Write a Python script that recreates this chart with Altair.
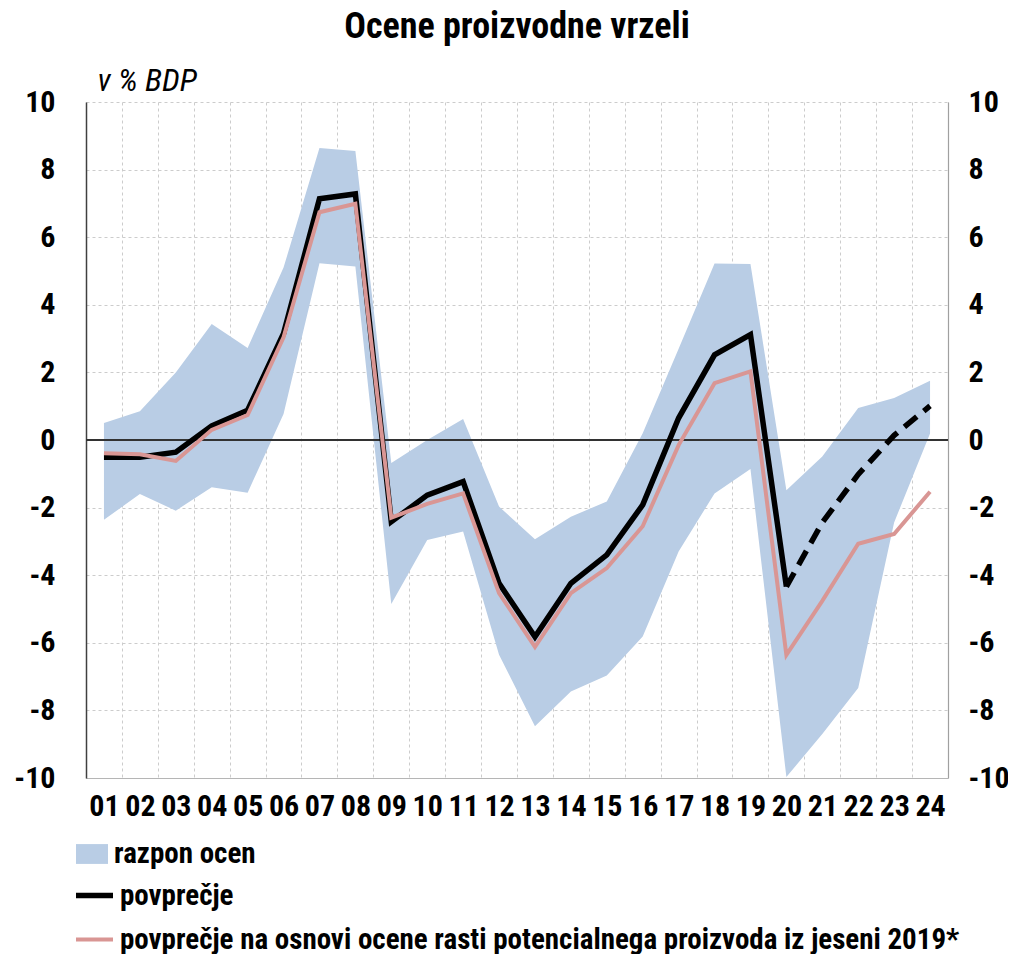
import altair as alt
import pandas as pd

# ---- data ----
leta = ["01", "02", "03", "04", "05", "06", "07", "08", "09", "10", "11", "12",
        "13", "14", "15", "16", "17", "18", "19", "20", "21", "22", "23", "24"]
razpon_zgoraj = [0.5, 0.85, 2.0, 3.43, 2.72, 5.1, 8.64, 8.55, -0.68, 0.0, 0.62, -1.97,
                 -2.94, -2.27, -1.82, 0.2, 2.7, 5.22, 5.21, -1.49, -0.49, 0.95, 1.24, 1.75]
razpon_spodaj = [-2.36, -1.6, -2.09, -1.4, -1.56, 0.77, 5.23, 5.13, -4.85, -2.96, -2.71, -6.35,
                 -8.47, -7.44, -6.97, -5.81, -3.3, -1.58, -0.86, -9.97, -8.7, -7.34, -2.44, 0.19]
povprecje = [-0.51, -0.51, -0.36, 0.42, 0.88, 3.15, 7.14, 7.28, -2.42, -1.63, -1.23, -4.24,
             -5.82, -4.24, -3.4, -1.92, 0.65, 2.52, 3.12, -4.34]
povprecje_napoved_leta = ["20", "21", "22", "23", "24"]
povprecje_napoved = [-4.34, -2.44, -1.02, 0.14, 1.01]
povprecje_2019 = [-0.39, -0.42, -0.62, 0.3, 0.74, 3.04, 6.74, 6.99, -2.3, -1.89, -1.58, -4.53,
                  -6.12, -4.53, -3.79, -2.55, -0.15, 1.68, 2.03, -6.36, -4.76, -3.07, -2.78, -1.53]

serije = ["povprečje", "povprečje na osnovi ocene rasti potencialnega proizvoda iz jeseni 2019*"]
pas_ime = "razpon ocen"
y_ticks = [-10, -8, -6, -4, -2, 0, 2, 4, 6, 8, 10]

FONT = "Roboto Condensed, Noto Sans Condensed, Roboto, sans-serif"
BAND_COLOR = "#b9cde5"
PINK = "#d99694"
FS = 30      # tick labels
LFS = 29     # legend labels

df_band = pd.DataFrame({"leto": leta, "zg": razpon_zgoraj, "sp": razpon_spodaj, "pas": pas_ime})
df_avg = pd.DataFrame({"leto": leta[:len(povprecje)], "v": povprecje, "serija": serije[0]})
df_proj = pd.DataFrame({"leto": povprecje_napoved_leta, "v": povprecje_napoved})
df_pink = pd.DataFrame({"leto": leta, "v": povprecje_2019, "serija": serije[1]})

x_scale = alt.Scale(type="band", domain=leta, paddingInner=0, paddingOuter=0)
y_scale = alt.Scale(domain=[-10, 10], nice=False)

x_axis = alt.Axis(title=None, labelAngle=0, tickBand="extent", ticks=False, grid=True,
                  gridDash=[3, 3], gridColor="#cccccc", gridWidth=1,
                  domainColor="#b5b5b5", domainWidth=1,
                  labelFont=FONT, labelFontSize=FS, labelFontWeight="bold",
                  labelColor="#000000", labelPadding=13)


def X():
    return alt.X("leto:N", scale=x_scale, axis=x_axis, bandPosition=0.5, sort=leta)


left_axis = alt.Axis(values=y_ticks, orient="left", grid=True, gridDash=[3, 3],
                     gridColor="#cccccc", gridWidth=1, ticks=False,
                     domainColor="#404040", domainWidth=1.5,
                     labelExpr="'' + datum.value",
                     labelFont=FONT, labelFontSize=FS, labelFontWeight="bold",
                     labelColor="#000000", labelPadding=31,
                     title="v % BDP", titleAngle=0, titleAlign="left",
                     titleBaseline="alphabetic", titleX=11, titleY=-12,
                     titleFont=FONT, titleFontSize=32, titleFontStyle="italic",
                     titleFontWeight="normal", titleColor="#000000")
right_axis = alt.Axis(values=y_ticks, orient="right", grid=False, ticks=False,
                      domainColor="#a0a0a0", domainWidth=1.2,
                      labelExpr="'' + datum.value",
                      labelFont=FONT, labelFontSize=FS, labelFontWeight="bold",
                      labelColor="#000000", labelPadding=20, labelAlign="left",
                      title=None)

stroke_scale = alt.Scale(domain=serije, range=["#000000", PINK])
sw_scale = alt.Scale(domain=serije, range=[5.5, 4])
line_legend = alt.Legend(title=None, orient="none", legendX=-13, legendY=772,
                         symbolType="stroke", symbolSize=1369, labelFont=FONT,
                         labelFontSize=LFS, labelFontWeight="bold", labelColor="#000000",
                         labelLimit=2000, rowPadding=8, labelOffset=4)

band = alt.Chart(df_band).mark_area(opacity=1).encode(
    x=X(),
    y=alt.Y("zg:Q", scale=y_scale, axis=left_axis),
    y2="sp:Q",
    fill=alt.Fill("pas:N", scale=alt.Scale(domain=[pas_ime], range=[BAND_COLOR]),
                  legend=alt.Legend(title=None, orient="none", legendX=-10, legendY=736,
                                    symbolType="M-1,-0.62H1V0.62H-1Z", symbolSize=1024,
                                    symbolStrokeWidth=0, labelFont=FONT, labelFontSize=LFS,
                                    labelFontWeight="bold", labelColor="#000000",
                                    labelLimit=2000, labelOffset=6)),
)

zero = alt.Chart(df_band).mark_rule(color="#333333", strokeWidth=1.3).encode(
    y=alt.YDatum(0, scale=y_scale, axis=None)
)

black = alt.Chart(df_avg).mark_line(strokeJoin="miter").encode(
    x=X(),
    y=alt.Y("v:Q", scale=y_scale, axis=None),
    stroke=alt.Stroke("serija:N", scale=stroke_scale, legend=line_legend),
    strokeWidth=alt.StrokeWidth("serija:N", scale=sw_scale, legend=line_legend),
)

black_dash = alt.Chart(df_proj).mark_line(color="#000000", strokeWidth=5.5,
                                          strokeDash=[16, 9]).encode(
    x=X(),
    y=alt.Y("v:Q", scale=y_scale, axis=None),
)

pink = alt.Chart(df_pink).mark_line().encode(
    x=X(),
    y=alt.Y("v:Q", scale=y_scale, axis=right_axis),
    stroke=alt.Stroke("serija:N", scale=stroke_scale, legend=line_legend),
    strokeWidth=alt.StrokeWidth("serija:N", scale=sw_scale, legend=line_legend),
)

chart = alt.layer(band, zero, black, black_dash, pink).resolve_axis(
    y="independent"
).properties(
    width=862,
    height=676,
    autosize=alt.AutoSizeParams(type="none"),
    padding={"left": 78, "top": 94, "right": 60, "bottom": 176},
    title=alt.TitleParams("Ocene proizvodne vrzeli", font=FONT, fontSize=36,
                          fontWeight="bold", color="#000000", anchor="middle",
                          offset=18),
).configure_view(stroke=None)

chart.save("out.html", embed_options={"renderer": "svg", "actions": False})
